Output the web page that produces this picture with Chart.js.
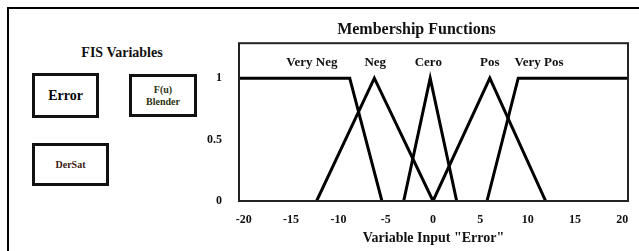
<!DOCTYPE html>
<html>
<head>
<meta charset="utf-8">
<script src="https://cdn.jsdelivr.net/npm/chart.js@4.4.1/dist/chart.umd.min.js"></script>
<style>
  body { margin: 0; width: 639px; height: 251px; overflow: hidden; background: #fff; }
  #frame { position: absolute; left: 7px; top: 7px; width: 700px; height: 300px; border-top: 2px solid #000; border-left: 2px solid #000; }
  .lbl, .box { font-family: "Liberation Serif", "Times New Roman", serif; }
  .lbl { position: absolute; font-weight: bold; color: #111; text-align: center; }
  .box { position: absolute; border: 3px solid #111; background: #fff; display: flex; align-items: center; justify-content: center; text-align: center; font-weight: bold; box-sizing: border-box; }
  #wrap { position: absolute; left: 205px; top: 8px; width: 434px; height: 243px; }
</style>
</head>
<body>
<div id="frame"></div>
<div class="lbl" style="left:62px; top:45px; width:120px; font-size:14px;">FIS Variables</div>
<div class="box" style="left:32px; top:73px; width:67px; height:45px; font-size:14px;">Error</div>
<div class="box" style="left:129px; top:74px; width:68px; height:43px; font-size:10px; line-height:12px; color:#2e3310;">F(u)<br>Blender</div>
<div class="box" style="left:32px; top:143px; width:77px; height:43px; font-size:10px; color:#3a1a14;">DerSat</div>
<div id="wrap"><canvas id="chartMF"></canvas></div>
<script>
// funciones de pertenencia (x, grado)
const veryNeg = [{x: -20.5, y: 1}, {x: -8.8, y: 1}, {x: -5.4, y: 0}];
const neg = [{x: -12.3, y: 0}, {x: -6.2, y: 1}, {x: 0, y: 0}];
const cero = [{x: -3.1, y: 0}, {x: -0.3, y: 1}, {x: 2.5, y: 0}];
const pos = [{x: 0, y: 0}, {x: 6.0, y: 1}, {x: 11.9, y: 0}];
const veryPos = [{x: 5.7, y: 0}, {x: 9.0, y: 1}, {x: 20.6, y: 1}];

const mfNames = ['Very Neg', 'Neg', 'Cero', 'Pos', 'Very Pos'];
const mfLabelX = [-12.8, -6.1, -0.5, 6.0, 11.2];
const xTicks = [-20, -15, -10, -5, 0, 5, 10, 15, 20];
const yTicks = [0, 0.5, 1];

const serif = '"Liberation Serif", "Times New Roman", serif';

// marco del area de grafico + nombres de las funciones
const boxPlugin = {
    id: 'boxPlugin',
    afterDraw(chart) {
        const ctx = chart.ctx, a = chart.chartArea;
        ctx.save();
        ctx.strokeStyle = '#222';
        ctx.lineWidth = 2;
        ctx.strokeRect(a.left, a.top, a.right - a.left, a.bottom - a.top);
        ctx.fillStyle = '#111';
        ctx.font = 'bold 13px ' + serif;
        ctx.textAlign = 'center';
        ctx.textBaseline = 'middle';
        mfNames.forEach((n, i) => {
            ctx.fillText(n, chart.scales.x.getPixelForValue(mfLabelX[i]), chart.scales.y.getPixelForValue(1.13));
        });
        ctx.restore();
    }
};

const mkSet = (data) => ({ data, borderColor: '#000', borderWidth: 3, pointRadius: 0, fill: false, tension: 0 });

new Chart(document.getElementById('chartMF'), {
    type: 'line',
    data: { datasets: [mkSet(veryNeg), mkSet(neg), mkSet(cero), mkSet(pos), mkSet(veryPos)] },
    options: {
        responsive: true, maintainAspectRatio: false, animation: false,
        layout: { padding: { left: 0, right: 11, top: 0, bottom: 0 } },
        plugins: {
            legend: { display: false },
            tooltip: { enabled: false },
            title: {
                display: true, text: 'Membership Functions', color: '#111',
                font: { family: serif, size: 16, weight: 'bold' },
                padding: { top: 12, bottom: 4 }
            }
        },
        scales: {
            x: {
                type: 'linear', min: -20.5, max: 20.6,
                afterBuildTicks: (s) => { s.ticks = xTicks.map(v => ({ value: v })); },
                afterFit: (s) => { s.height = 50; },
                grid: { display: false }, border: { display: false },
                ticks: { color: '#111', padding: 4, maxRotation: 0, callback: (v) => String(v), font: { family: serif, size: 12, weight: 'bold' } },
                title: { display: true, text: 'Variable Input "Error"', color: '#111', font: { family: serif, size: 14, weight: 'bold' } }
            },
            y: {
                type: 'linear', min: 0, max: 1.285,
                afterBuildTicks: (s) => { s.ticks = yTicks.map(v => ({ value: v })); },
                afterFit: (s) => { s.width = 34; },
                grid: { display: false }, border: { display: false },
                ticks: { color: '#111', padding: 9, callback: (v) => String(v), font: { family: serif, size: 12, weight: 'bold' } }
            }
        }
    },
    plugins: [boxPlugin]
});
</script>
</body>
</html>
